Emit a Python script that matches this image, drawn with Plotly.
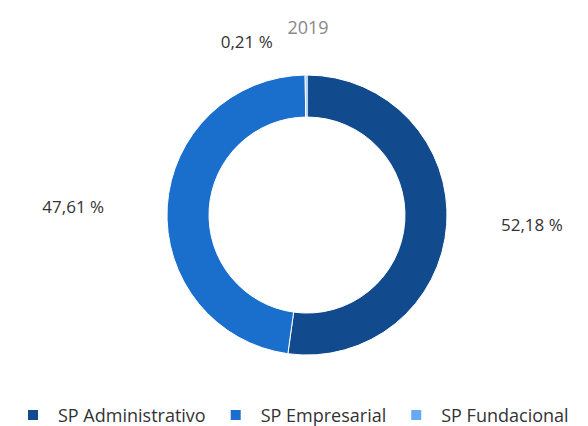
import plotly.graph_objects as go

labels = ["SP Administrativo", "SP Empresarial", "SP Fundacional"]
values = [52.18, 47.61, 0.21]
colors = ["#124a8e", "#1b6fcc", "#66aaf2"]
title_text = "2019"

NB = "\u00a0"
templates = [
    NB * 11 + "%{value:.2f} %",
    "%{value:.2f} %" + NB * 13,
    "%{value:.2f} %" + NB * 5 + "<br>" + NB,
]

W, H = 588, 426
fig = go.Figure(go.Pie(
    labels=labels, values=values, sort=False, direction="clockwise", rotation=0,
    hole=0.70,
    marker=dict(colors=colors, line=dict(color="#ffffff", width=1)),
    texttemplate=templates, textposition="outside",
    textfont=dict(size=17, color="#333333", family="Open Sans"),
    domain=dict(x=[157 / W, 441 / W], y=[1 - 352 / H, 1 - 68 / H]),
    showlegend=True,
))
fig.update_layout(
    width=W, height=H,
    margin=dict(l=0, r=0, t=0, b=0),
    separators=",.",
    paper_bgcolor="white",
    font=dict(family="Open Sans", color="#333333"),
    title=dict(text=title_text, x=300 / W, xanchor="center", y=1 - 20 / H, yanchor="middle",
               font=dict(size=18, color="#888888")),
    legend=dict(orientation="h", x=0.0, xanchor="left", y=1 - 413 / H, yanchor="middle",
                font=dict(size=18, color="#333333"), itemsizing="constant",
                itemwidth=40, traceorder="normal"),
)
fig.write_html("out.html")
